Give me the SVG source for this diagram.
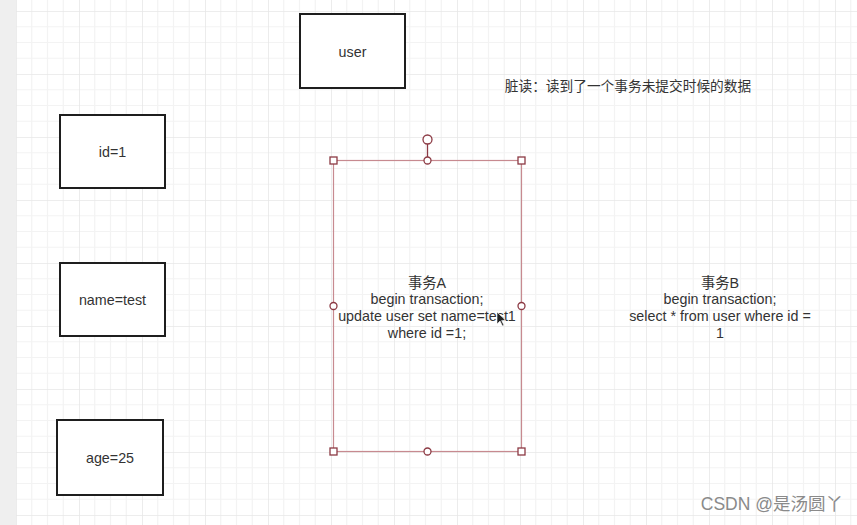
<svg xmlns="http://www.w3.org/2000/svg" width="857" height="525" viewBox="0 0 857 525">
<defs>
<pattern id="grid" x="16" y="11" width="63" height="63" patternUnits="userSpaceOnUse">
<path d="M15.75 0V63M31.5 0V63M47.25 0V63M0 15.75H63M0 31.5H63M0 47.25H63" stroke="#f3f3f3" stroke-width="1.2" fill="none"/>
<path d="M0 0V63M0 0H63" stroke="#e7e7e7" stroke-width="1.6" fill="none"/>
</pattern>
<style>
.box{fill:#fff;stroke:#1e1e1e;stroke-width:2}
.t{font-family:"Liberation Sans","Noto Sans CJK SC",sans-serif;font-size:14.3px;fill:#333;text-anchor:middle}
.h{fill:#fff;stroke:#8c3a44;stroke-width:1.3}
</style>
</defs>
<rect width="857" height="525" fill="#fff"/>
<rect width="857" height="525" fill="url(#grid)"/>
<rect width="16" height="525" fill="#efefef"/>
<g id="user"><rect class="box" x="300" y="14" width="105" height="74"/><text class="t" x="352.5" y="57">user</text></g>
<g id="id1"><rect class="box" x="60" y="115" width="105" height="73"/><text class="t" x="112.5" y="157">id=1</text></g>
<g id="name"><rect class="box" x="60" y="263" width="105" height="73"/><text class="t" x="112.5" y="305">name=test</text></g>
<g id="age"><rect class="box" x="57" y="420" width="106" height="75"/><text class="t" x="110" y="463">age=25</text></g>
<g id="title"><text class="t" x="628" y="91" style="font-size:13.7px">脏读：读到了一个事务未提交时候的数据</text></g>
<g id="txA">
<rect x="333.5" y="160.5" width="188" height="291" fill="none" stroke="#c78a90" stroke-width="1.2"/>
<text class="t" x="427" y="288">事务A</text>
<text class="t" x="427" y="304">begin transaction;</text>
<text class="t" x="427" y="321">update user set name=test1</text>
<text class="t" x="427" y="338">where id =1;</text>
<line x1="427.5" y1="144" x2="427.5" y2="157" stroke="#8c3a44" stroke-width="1.3"/>
<circle class="h" cx="427.5" cy="139.5" r="4.5"/>
<rect class="h" x="330" y="157" width="7" height="7"/>
<rect class="h" x="518" y="157" width="7" height="7"/>
<rect class="h" x="330" y="448" width="7" height="7"/>
<rect class="h" x="518" y="448" width="7" height="7"/>
<circle class="h" cx="427.5" cy="160.5" r="3.5"/>
<circle class="h" cx="427.5" cy="451.5" r="3.5"/>
<circle class="h" cx="333.5" cy="306" r="3.5"/>
<circle class="h" cx="521.5" cy="306" r="3.5"/>
</g>
<g id="txB">
<text class="t" x="720" y="288">事务B</text>
<text class="t" x="720" y="304">begin transaction;</text>
<text class="t" x="720" y="321">select * from user where id =</text>
<text class="t" x="720" y="338">1</text>
</g>
<path d="M497 312 L497 324 L500 321 L502.5 326 L504 325.3 L501.6 320.5 L505.5 320.3 Z" fill="#222" stroke="#fff" stroke-width="0.6"/>
<text x="843" y="510" font-family="Liberation Sans,'Noto Sans CJK SC',sans-serif" font-size="17.5" fill="#8a8a8a" text-anchor="end">CSDN @是汤圆丫</text>
</svg>
